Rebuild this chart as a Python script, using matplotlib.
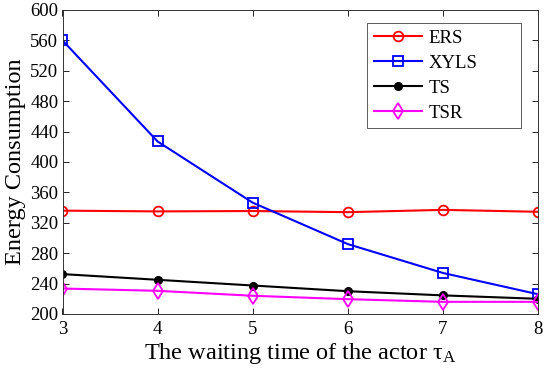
import numpy as np
import matplotlib
matplotlib.use("Agg")
import matplotlib.pyplot as plt

plt.rcParams['font.family'] = ['Liberation Serif', 'DejaVu Serif']
plt.rcParams['mathtext.fontset'] = 'custom'
plt.rcParams['mathtext.rm'] = 'Liberation Serif'
plt.rcParams['mathtext.it'] = 'Liberation Serif'

# data
tau = [3, 4, 5, 6, 7, 8]
ers = [336, 335, 335.5, 334, 337, 334.5]
xyls = [560, 427, 346.5, 292, 254, 226]
ts = [252.5, 245, 237.5, 230, 224.5, 220]
tsr = [233.5, 230.5, 224, 219.5, 216, 216]

fig = plt.figure(figsize=(5.5, 3.74), dpi=100)
ax = fig.add_axes([62.5 / 550, 1 - 314 / 374, 475.5 / 550, 304 / 374])

ax.plot(tau, ers, color='red', marker='o', mfc='none', mew=1.3, ms=7, lw=1.5, label='ERS')
ax.plot(tau, xyls, color='blue', marker='s', mfc='none', mew=1.3, ms=6.5, lw=1.5, label='XYLS')
ax.plot(tau, ts, color='black', marker='o', ms=5.5, lw=1.5, label='TS')
ax.plot(tau, tsr, color='magenta', marker='d', mfc='none', mew=1.3, ms=8, lw=1.5, label='TSR')

ax.set_xlim(3, 8)
ax.set_ylim(200, 600)
ax.set_xticks(tau)
ax.set_yticks(np.arange(200, 601, 40))
ax.tick_params(direction='in', top=True, right=True, labelsize=13.5, length=4, width=0.6, pad=3)
ax.tick_params(axis='x', pad=5)
for s in ax.spines.values():
    s.set_linewidth(0.7)
    s.set_color('#333333')

ax.set_xlabel(r'The waiting time of the actor $\mathrm{\tau}_{\mathrm{A}}$', fontsize=17.5, labelpad=2)
ax.set_ylabel('Energy Consumption', fontsize=17.5, labelpad=3)

leg = ax.legend(loc='upper left', bbox_to_anchor=(367 / 550, 1 - 123 / 374, 154 / 550, 100 / 374),
                bbox_transform=fig.transFigure, mode='expand', fontsize=13.5, frameon=True,
                fancybox=False, edgecolor='#333333', handlelength=2.6, borderpad=0.35,
                labelspacing=0.42, handletextpad=0.35, borderaxespad=0)
leg.get_frame().set_linewidth(0.7)

fig.savefig('out.png', dpi=100)
